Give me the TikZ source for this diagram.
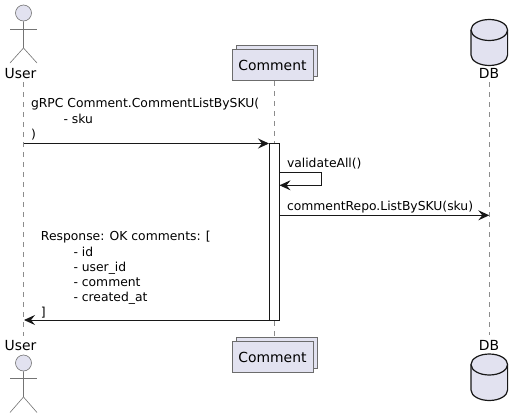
\documentclass[tikz,border=0pt]{standalone}
\usepackage{fontspec}
\setmainfont{DejaVu Sans}
\usetikzlibrary{arrows.meta,calc}
\definecolor{pfill}{HTML}{E2E2F0}
\definecolor{pline}{HTML}{181818}
\tikzset{
  x=1pt,y=-1pt,
  lbl/.style={inner sep=0pt,outer sep=0pt,font=\fontsize{12.35}{15.2}\selectfont,text=black},
  plbl/.style={inner sep=0pt,outer sep=0pt,font=\fontsize{13.9}{16}\selectfont,text=black},
  msg/.style={lbl,anchor=north west,align=left},
  life/.style={draw=gray!90,line width=0.6pt,dash pattern=on 5pt off 5pt},
  arr/.style={draw=pline,line width=1pt,-{Stealth[length=11pt,width=10pt,inset=4pt]}},
  actorline/.style={draw=pline!60,line width=0.6pt},
  actorhead/.style={draw=pline!60,fill=pfill,line width=0.6pt,circle,minimum size=16pt,inner sep=0pt},
  partbox/.style={draw=gray!85!black,fill=pfill,line width=0.7pt,minimum width=81pt,minimum height=31pt,inner sep=0pt},
  dbbody/.style={draw=pline,fill=pfill,line width=1.2pt},
  activ/.style={draw=pline,fill=white,line width=0.9pt,minimum width=10pt,minimum height=176.5pt,inner sep=0pt},
}
\newcommand{\indentln}{\hspace*{32.5pt}}
\begin{document}
\begin{tikzpicture}
\useasboundingbox (0,0) rectangle (523,418);
\fill[white] (0,0) rectangle (523,418);
% lifeline anchors
\coordinate (utop) at (23.5,82);
\coordinate (ubot) at (23.5,336);
\coordinate (ctop) at (274.5,81);
\coordinate (cbot) at (274.5,338);
\coordinate (dtop) at (489.3,82);
\coordinate (dbot) at (489.3,335);
\draw[life] (utop) -- (ubot);
\draw[life] (ctop) -- (cbot);
\draw[life] (dtop) -- (dbot);
% User top
\node[actorhead] (uh1) at (23.5,13) {};
\coordinate (uhip1) at (23.5,48);
\coordinate (uarmL1) at (10,29);
\coordinate (uarmR1) at (37,29);
\coordinate (ufootL1) at (10,63);
\coordinate (ufootR1) at (37,63);
\draw[actorline] (uh1) -- (uhip1) -- (ufootL1);
\draw[actorline] (uhip1) -- (ufootR1);
\draw[actorline] (uarmL1) -- (uarmR1);
\node[plbl] (ulab1) at (20.5,74) {User};
% User bottom
\node[actorhead] (uh2) at (23.5,363) {};
\coordinate (uhip2) at (23.5,397);
\coordinate (uarmL2) at (10,378.5);
\coordinate (uarmR2) at (37,378.5);
\coordinate (ufootL2) at (10,412.5);
\coordinate (ufootR2) at (37,412.5);
\draw[actorline] (uh2) -- (uhip2) -- (ufootL2);
\draw[actorline] (uhip2) -- (ufootR2);
\draw[actorline] (uarmL2) -- (uarmR2);
\node[plbl] (ulab2) at (20.5,345.5) {User};
% Comment boxes
\node[partbox] (cb1) at (277,61.3) {};
\node[partbox] (cf1) at (273,65.3) {};
\node[plbl] at (272.5,65.5) {Comment};
\node[partbox] (cb2) at (277,353.3) {};
\node[partbox] (cf2) at (273,357) {};
\node[plbl] at (272.5,357) {Comment};
% DB top
\draw[dbbody] (471,30) arc[start angle=180,end angle=0,x radius=18.3pt,y radius=10.5pt]
  -- (507.6,55) arc[start angle=0,end angle=-180,x radius=18.3pt,y radius=10.5pt] -- cycle;
\draw[dbbody,fill=none] (471,30) arc[start angle=180,end angle=360,x radius=18.3pt,y radius=10.5pt];
\node[plbl] (dl1) at (489,73.5) {DB};
% DB bottom
\draw[dbbody] (471,364.5) arc[start angle=180,end angle=0,x radius=18.3pt,y radius=10.5pt]
  -- (507.6,390) arc[start angle=0,end angle=-180,x radius=18.3pt,y radius=10.5pt] -- cycle;
\draw[dbbody,fill=none] (471,364.5) arc[start angle=180,end angle=360,x radius=18.3pt,y radius=10.5pt];
\node[plbl] (dl2) at (489,345.5) {DB};
% activation
\node[activ] (act) at (274.5,231.7) {};
% connector endpoints
\coordinate (m1a) at (23.5,143.5);
\coordinate (m1b) at (269,143.5);
\coordinate (s1) at (279.5,172.3);
\coordinate (s2) at (321.7,172.3);
\coordinate (s3) at (321.7,185.3);
\coordinate (s4) at (279.5,185.3);
\coordinate (m3a) at (279.5,215.3);
\coordinate (m3b) at (489.3,215.3);
\coordinate (m4a) at (269.5,320);
\coordinate (m4b) at (24,320);
\draw[arr] (m1a) -- (m1b);
\draw[arr] (s1) -- (s2) -- (s3) -- (s4);
\draw[arr] (m3a) -- (m3b);
\draw[arr] (m4a) -- (m4b);
% labels
\node[msg] (t1) at (31,98.5) {gRPC Comment.CommentListBySKU(\\\indentln- sku\\)};
\node[lbl,anchor=north west] (t2) at (287,158) {validateAll()};
\node[lbl,anchor=north west] (t3) at (287,201) {commentRepo.ListBySKU(sku)};
\node[msg] (t4) at (41,231.5) {Response: OK comments: [\\\indentln- id\\\indentln- user\_id\\\indentln- comment\\\indentln- created\_at\\]};
\end{tikzpicture}
\end{document}
